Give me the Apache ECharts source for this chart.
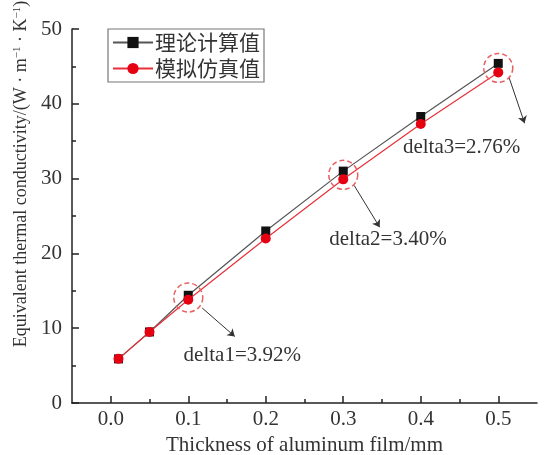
<!DOCTYPE html>
<html>
<head>
<meta charset="utf-8">
<script src="https://cdn.jsdelivr.net/npm/echarts@6/dist/echarts.min.js"></script>
<style>
html,body{margin:0;padding:0;background:#fff;}
#chart{width:559px;height:455px;}
</style>
</head>
<body>
<div id="chart"></div>
<script>
// ---- data ----
const xValues = [0.01, 0.05, 0.1, 0.2, 0.3, 0.4, 0.5];
const theoryValues = [5.9, 9.5, 14.4, 23.0, 31.0, 38.3, 45.4];
const simValues = [5.9, 9.5, 13.8, 22.0, 29.9, 37.3, 44.2];
const seriesNames = ['理论计算值', '模拟仿真值'];
const xTickLabels = [0.0, 0.1, 0.2, 0.3, 0.4, 0.5];
// annotations (data coordinates)
const circleCenters = [[0.1, 14.1], [0.3, 30.5], [0.5, 44.8]];
const arrowSegments = [
  [[0.118, 12.7], [0.160, 8.9]],
  [[0.314, 29.1], [0.347, 23.5]],
  [[0.514, 43.5], [0.534, 37.4]]
];
const deltaLabels = ['delta1=3.92%', 'delta2=3.40%', 'delta3=2.76%'];
const deltaAnchors = [[0.094, 6.4], [0.282, 21.8], [0.377, 34.2]];

const serif = '"Liberation Serif", "Times New Roman", serif';
const cjk = '"Noto Sans CJK SC", sans-serif';

const chart = echarts.init(document.getElementById('chart'), null, {renderer: 'canvas'});

const pair = (xs, ys) => xs.map((x, i) => [x, ys[i]]);

const option = {
  animation: false,
  backgroundColor: '#fff',
  grid: {left: 72, top: 29, right: 22, bottom: 52, containLabel: false, outerBoundsMode: 'none'},
  legend: {
    left: 108, top: 29,
    orient: 'vertical',
    borderColor: '#777', borderWidth: 1.2,
    padding: [3, 4, 3, 4],
    itemGap: 5,
    itemWidth: 40, itemHeight: 14,
    textStyle: {fontFamily: cjk, fontSize: 21, color: '#333', padding: [0,0,0,-3]},
    data: seriesNames
  },
  xAxis: [
    {
      type: 'value', min: -0.05, max: 0.55, interval: 0.05,
      position: 'bottom',
      name: 'Thickness of aluminum film/mm',
      nameLocation: 'middle', nameGap: 30,
      nameTextStyle: {fontFamily: serif, fontSize: 21, color: '#333'},
      axisLine: {show: true, onZero: false, lineStyle: {color: '#222', width: 1.5}},
      axisTick: {show: true, inside: true, length: 4, lineStyle: {color: '#222', width: 1.5}},
      axisLabel: {
        margin: 6, fontFamily: serif, fontSize: 21, color: '#333',
        showMinLabel: false, showMaxLabel: false,
        formatter: function (v) {
          const k = Math.round(v * 100);
          if (k < 0 || k % 10 !== 0) return '';
          return (k / 100).toFixed(1);
        }
      },
      splitLine: {show: false}
    },
    {
      type: 'value', min: -0.05, max: 0.55,
      position: 'bottom', offset: 0,
      axisLine: {show: false, onZero: false},
      axisTick: {show: true, inside: true, length: 7, customValues: xTickLabels, lineStyle: {color: '#222', width: 1.5}},
      axisLabel: {show: false},
      splitLine: {show: false}
    }
  ],
  yAxis: {
    type: 'value', min: 0, max: 50, interval: 10,
    name: 'Equivalent thermal conductivity/(W · m{sup|−1} · K{sup|−1})',
    nameLocation: 'middle', nameGap: 33,
    nameTextStyle: {
      fontFamily: serif, fontSize: 18, color: '#333',
      padding: [0, 0, 0, 84],
      rich: {sup: {fontFamily: serif, fontSize: 11, color: '#333', verticalAlign: 'top', padding: [0, 0, 8, 0]}}
    },
    axisLine: {show: true, onZero: false, lineStyle: {color: '#222', width: 1.5}},
    axisTick: {show: true, inside: true, length: 7, lineStyle: {color: '#222', width: 1.5}},
    minorTick: {show: true, splitNumber: 2, length: 4, lineStyle: {color: '#222', width: 1.5}},
    axisLabel: {margin: 10, fontFamily: serif, fontSize: 21, color: '#333'},
    splitLine: {show: false}
  },
  series: [
    {
      name: seriesNames[0], type: 'line',
      data: pair(xValues, theoryValues),
      symbol: 'rect', symbolSize: 9,
      itemStyle: {color: '#111'},
      lineStyle: {color: '#555', width: 1.2},
      z: 3
    },
    {
      name: seriesNames[1], type: 'line',
      data: pair(xValues, simValues),
      symbol: 'circle', symbolSize: 10,
      itemStyle: {color: '#e50012'},
      lineStyle: {color: '#e8303a', width: 1.2},
      z: 4
    },
    {
      name: 'annotations', type: 'line', data: [],
      silent: true, z: 5,
      markPoint: {
        silent: true, animation: false,
        data: circleCenters.map(c => ({
          coord: c, symbol: 'circle', symbolSize: 29,
          itemStyle: {color: 'rgba(0,0,0,0)', borderColor: '#e86060', borderWidth: 1.5, borderType: [5, 3]},
          label: {show: false}
        })).concat(deltaAnchors.map((c, i) => ({
          coord: c, symbol: 'circle', symbolSize: 0,
          itemStyle: {color: 'rgba(0,0,0,0)'},
          label: {show: true, position: 'right', distance: 0, formatter: deltaLabels[i],
                  fontFamily: serif, fontSize: 21, color: '#333'}
        })))
      },
      markLine: {
        silent: true, animation: false,
        symbol: ['none', 'arrow'], symbolSize: 7,
        lineStyle: {color: '#333', width: 1, type: 'solid'},
        itemStyle: {color: '#333'},
        label: {show: false},
        data: arrowSegments.map(s => [{coord: s[0]}, {coord: s[1]}])
      }
    }
  ]
};
chart.setOption(option);
</script>
</body>
</html>
